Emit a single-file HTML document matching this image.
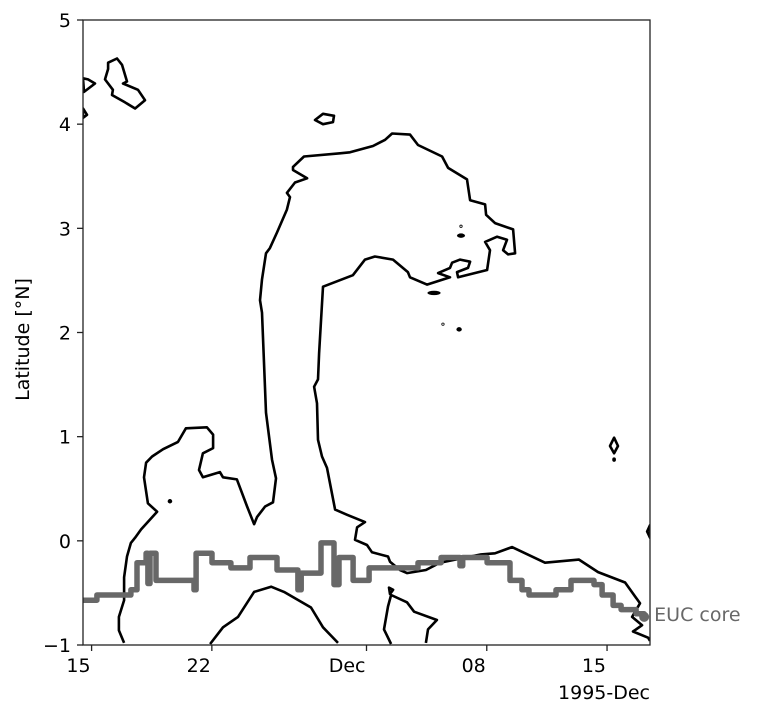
<!DOCTYPE html>
<html><head><meta charset="utf-8">
<style>
html,body{margin:0;padding:0;background:#fff;}
svg{display:block;font-family:"DejaVu Sans","Liberation Sans",sans-serif;}
</style></head>
<body>
<svg id="chart" width="758" height="716" viewBox="0 0 758 716" xmlns="http://www.w3.org/2000/svg">
<rect x="0" y="0" width="758" height="716" fill="#fff"/>
<g id="plot"></g>
<g id="axes"></g>
</svg>
<script>
// ---- data (days since 1995-11-15, latitude °N) ----
const xTickDays = [0, 7, 16, 23, 30];
const xTickLabels = ["15", "22", "Dec", "08", "15"];
const yTickValues = [-1, 0, 1, 2, 3, 4, 5];
const yTickLabels = ["\u22121", "0", "1", "2", "3", "4", "5"];

const eucDays = [-0.5,0.31,2.29,2.64,3.17,3.28,3.4,3.75,5.96,6.08,7.01,8.11,9.22,10.79,12.01,12.2,13.35,14.11,14.4,15.22,16.15,19.0,20.34,21.44,21.6,23.02,24.35,25.05,25.46,27.03,27.9,29.24,29.71,30.35,30.82,31.69,32.16];
const eucLats = [-0.57,-0.52,-0.47,-0.21,-0.12,-0.41,-0.12,-0.38,-0.47,-0.12,-0.21,-0.26,-0.16,-0.28,-0.47,-0.31,-0.02,-0.42,-0.16,-0.38,-0.26,-0.21,-0.16,-0.24,-0.16,-0.21,-0.38,-0.47,-0.52,-0.47,-0.38,-0.42,-0.52,-0.62,-0.66,-0.70,-0.73];

const hookContour = [[1.89,-0.98],[1.59,-0.86],[1.59,-0.73],[1.89,-0.57],[1.89,-0.35],[2.06,-0.15],[2.29,-0.02],[2.53,0.03],[2.88,0.11],[3.81,0.28],[3.28,0.36],[3.05,0.61],[3.17,0.75],[3.52,0.81],[4.16,0.88],[5.03,0.95],[5.49,1.08],[6.71,1.09],[7.07,1.02],[7.07,0.89],[6.48,0.84],[6.25,0.68],[6.48,0.61],[7.47,0.66],[7.65,0.61],[8.46,0.59],[9.05,0.33],[9.46,0.16],[9.63,0.23],[10.1,0.33],[10.56,0.37],[10.73,0.6],[10.5,0.78],[10.15,1.23],[9.92,2.19],[9.8,2.31],[9.92,2.51],[10.15,2.76],[10.38,2.81],[10.79,2.96],[11.37,3.18],[11.55,3.30],[11.37,3.34],[11.84,3.44],[12.54,3.48],[11.72,3.56],[11.72,3.59],[12.36,3.69],[14.46,3.72],[15.04,3.73],[16.38,3.79],[17.08,3.85],[17.49,3.91],[18.53,3.90],[19.0,3.80],[20.4,3.69],[20.75,3.58],[21.85,3.47],[22.03,3.27],[22.9,3.23],[22.96,3.13],[23.48,3.05],[24.53,2.99],[24.65,2.76],[24.24,2.75],[23.95,2.79],[24.18,2.89],[23.6,2.92],[22.9,2.87],[23.19,2.79],[23.02,2.60],[21.33,2.53],[21.27,2.58],[21.91,2.62],[22.03,2.68],[21.45,2.70],[20.98,2.67],[20.86,2.62],[20.17,2.57],[20.86,2.53],[19.52,2.46],[18.53,2.53],[18.41,2.58],[17.54,2.70],[16.49,2.73],[15.91,2.70],[15.21,2.55],[13.47,2.44],[13.24,1.80],[13.18,1.55],[12.95,1.48],[13.12,1.32],[13.18,0.97],[13.41,0.81],[13.7,0.70],[14.17,0.30],[14.87,0.25],[15.91,0.18],[15.45,0.13],[15.33,0.01],[16.03,-0.04],[16.32,-0.11],[17.25,-0.15],[17.37,-0.20],[17.95,-0.28],[18.36,-0.31],[19.46,-0.28],[20.28,-0.21],[22.67,-0.13],[23.48,-0.12],[24.47,-0.06],[26.39,-0.21],[28.37,-0.18],[29.48,-0.30],[31.05,-0.40],[31.92,-0.60],[31.46,-0.73],[32.04,-0.81],[31.51,-0.87],[32.39,-0.93],[32.5,-0.96]];
const bottomArcContour = [[6.9,-0.99],[7.65,-0.83],[8.52,-0.73],[9.46,-0.49],[10.45,-0.44],[11.2,-0.49],[12.77,-0.64],[13.47,-0.83],[14.34,-0.98]];
const midBottomContour = [[17.43,-0.99],[17.02,-0.85],[17.25,-0.63],[17.43,-0.52],[18.36,-0.59],[18.77,-0.68],[20.1,-0.76],[19.58,-0.85],[19.46,-0.98]];
const closedContours = [
  [[17.31,-0.45],[17.55,-0.47],[17.37,-0.51]],
  [[0.96,4.59],[1.48,4.63],[1.77,4.57],[2.06,4.41],[1.83,4.39],[2.7,4.33],[3.11,4.23],[2.53,4.15],[1.94,4.21],[1.19,4.28],[1.24,4.33],[0.78,4.43],[0.96,4.53]],
  [[-0.5,4.44],[-0.21,4.43],[0.2,4.39],[-0.44,4.31]],
  [[-0.5,4.15],[-0.27,4.09],[-0.5,4.06]],
  [[13.0,4.04],[13.47,4.10],[14.11,4.08],[14.05,4.02],[13.47,4.0]],
  [[30.41,0.99],[30.64,0.91],[30.41,0.84],[30.17,0.91]],
  [[32.5,0.15],[32.33,0.09],[32.5,0.03]]
];
const blobDays = [21.5, 19.93, 21.39, 4.56, 30.41];
const blobLats = [2.93, 2.38, 2.03, 0.38, 0.78];
const blobWidths = [0.35, 0.65, 0.2, 0.15, 0.1];
const ringDays = [21.5, 20.45];
const ringLats = [3.02, 2.08];

// ---- axes ----
const L = 83, R = 650, T = 20, B = 645;
const dayMin = -0.5, dayMax = 32.5, latMin = -1, latMax = 5;
const xs = d => L + (d - dayMin) / (dayMax - dayMin) * (R - L);
const ys = v => B - (v - latMin) / (latMax - latMin) * (B - T);
const NS = "http://www.w3.org/2000/svg";
const plot = document.getElementById('plot');
const axes = document.getElementById('axes');
function mk(tag, attrs, parent) {
  const e = document.createElementNS(NS, tag);
  for (const k in attrs) e.setAttribute(k, attrs[k]);
  parent.appendChild(e);
  return e;
}
const clip = mk('clipPath', {id: 'pc'}, document.getElementById('chart'));
mk('rect', {x: L, y: T, width: R - L, height: B - T}, clip);
plot.setAttribute('clip-path', 'url(#pc)');

function ptsStr(arr) { return arr.map(p => xs(p[0]).toFixed(1) + ',' + ys(p[1]).toFixed(1)).join(' '); }

let e;
e = mk('polyline', {points: ptsStr(hookContour), fill: 'none', stroke: '#000', 'stroke-width': 2.6, 'stroke-linejoin': 'round'}, plot);


e = mk('polyline', {points: ptsStr(bottomArcContour), fill: 'none', stroke: '#000', 'stroke-width': 2.6, 'stroke-linejoin': 'round'}, plot);


e = mk('polyline', {points: ptsStr(midBottomContour), fill: 'none', stroke: '#000', 'stroke-width': 2.6, 'stroke-linejoin': 'round'}, plot);


closedContours.forEach(c => {
  const p = mk('polygon', {points: ptsStr(c), fill: 'none', stroke: '#000', 'stroke-width': 2.6, 'stroke-linejoin': 'round'}, plot);
  
  
});
blobDays.forEach((d, i) => {
  const rx = Math.max(1.5, blobWidths[i] * (R - L) / (dayMax - dayMin) / 2 + 1);
  const b = mk('ellipse', {cx: xs(d), cy: ys(blobLats[i]), rx: rx, ry: 2.2, fill: '#000'}, plot);
  
  
});
ringDays.forEach((d, i) => {
  const r = mk('circle', {cx: xs(d), cy: ys(ringLats[i]), r: 1.2, fill: 'none', stroke: '#000', 'stroke-width': 0.8}, plot);
  
  
});

// EUC core step line
let ep = [];
for (let i = 0; i < eucDays.length; i++) {
  if (i > 0) ep.push([eucDays[i], eucLats[i - 1]]);
  ep.push([eucDays[i], eucLats[i]]);
}
e = mk('polyline', {points: ptsStr(ep), fill: 'none', stroke: '#686868', 'stroke-width': 5.5, 'stroke-linejoin': 'round', 'stroke-linecap': 'round'}, plot);


const last = eucDays.length - 1;
e = mk('circle', {cx: xs(eucDays[last]), cy: ys(eucLats[last]), r: 5, fill: '#686868'}, axes);


e = mk('text', {x: xs(eucDays[last]) + 10, y: ys(eucLats[last]) + 4, fill: '#686868', 'font-size': 19}, axes);
e.textContent = 'EUC core';



// frame
e = mk('rect', {x: L, y: T, width: R - L, height: B - T, fill: 'none', stroke: '#222', 'stroke-width': 1.3}, axes);



xTickDays.forEach((d, i) => {
  const t = mk('line', {x1: xs(d), x2: xs(d), y1: B, y2: B + 6, stroke: '#222', 'stroke-width': 1.3}, axes);
  
  
  const l = mk('text', {x: xs(d) - 1, y: B + 27, 'text-anchor': 'end', 'font-size': 19, fill: '#000'}, axes);
  l.textContent = xTickLabels[i];
  
  
});
yTickValues.forEach((v, i) => {
  const t = mk('line', {x1: L - 6, x2: L, y1: ys(v), y2: ys(v), stroke: '#222', 'stroke-width': 1.3}, axes);
  
  
  const l = mk('text', {x: L - 12, y: ys(v) + 7, 'text-anchor': 'end', 'font-size': 19, fill: '#000'}, axes);
  l.textContent = yTickLabels[i];
  
  
});
e = mk('text', {x: R, y: B + 54, 'text-anchor': 'end', 'font-size': 19, fill: '#000'}, axes);
e.textContent = '1995-Dec';


e = mk('text', {x: 0, y: 0, 'text-anchor': 'middle', 'font-size': 19, fill: '#000', transform: 'translate(29,' + ((T + B) / 2 + 7) + ') rotate(-90)'}, axes);
e.textContent = 'Latitude [°N]';


</script>
</body></html>
